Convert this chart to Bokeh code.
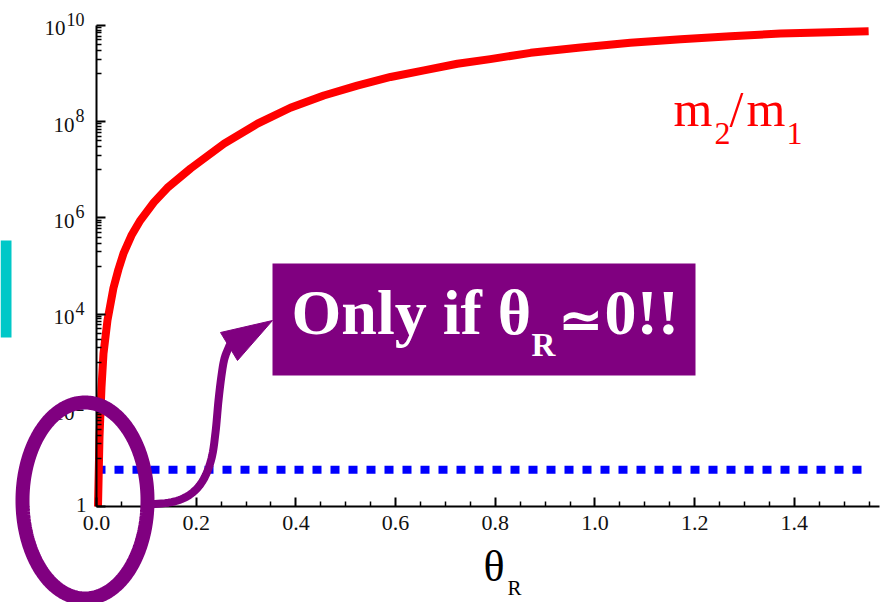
import numpy as np
from bokeh.plotting import figure
from bokeh.models import FixedTicker, Range1d, Label, BoxAnnotation, PolyAnnotation
from bokeh.embed import file_html
from bokeh.resources import INLINE

# ---------------- data ----------------
theta = [0.003, 0.006, 0.010, 0.014, 0.022, 0.034, 0.044, 0.054, 0.070, 0.088,
         0.115, 0.142, 0.189, 0.256, 0.323, 0.389, 0.456, 0.523, 0.590, 0.657,
         0.724, 0.790, 0.871, 0.971, 1.071, 1.172, 1.272, 1.372, 1.472, 1.549]
mass_ratio = [1.0, 28.0, 295.0, 1.5e3, 7.4e3, 3.5e4, 8.5e4, 1.8e5, 4.3e5, 8.9e5,
              2.1e6, 4.2e6, 1.07e7, 3.5e7, 9.1e7, 1.95e8, 3.5e8, 5.6e8, 8.5e8, 1.17e9,
              1.6e9, 2.0e9, 2.7e9, 3.5e9, 4.4e9, 5.2e9, 6.0e9, 6.8e9, 7.2e9, 7.6e9]
flat_theta = [0.0, 1.545]
flat_value = [5.8, 5.8]

x_ticks = [0.0, 0.2, 0.4, 0.6, 0.8, 1.0, 1.2, 1.4]
x_tick_labels = ["0.0", "0.2", "0.4", "0.6", "0.8", "1.0", "1.2", "1.4"]
x_minor = [0.05, 0.1, 0.15, 0.25, 0.3, 0.35, 0.45, 0.5, 0.55, 0.65, 0.7, 0.75,
           0.85, 0.9, 0.95, 1.05, 1.1, 1.15, 1.25, 1.3, 1.35, 1.45, 1.5, 1.55]
x_bounds = (0.0, np.pi / 2)
y_ticks = [1.0, 1e2, 1e4, 1e6, 1e8, 1e10]
y_exponents = ["", "2", "4", "6", "8", "10"]
y_minor = [m * 10.0 ** k for k in (1, 3, 5, 7, 9) for m in range(1, 10)]
y_bounds = (1.0, 1e10)

# ---------------- layout (pixels of the 883x602 canvas) ----------------
W, H = 883, 602
X0_PX, X1_PX = 96, 879        # theta = 0 and theta = pi/2
Y0_PX, Y1_PX = 506, 25        # value = 1 and value = 1e10
SERIF = "Liberation Serif"
PURPLE = "#800080"
BASE_FIX = 0.39               # label baseline correction (fraction of font size)

px_per_x = (X1_PX - X0_PX) / (x_bounds[1] - x_bounds[0])
px_per_dec = (Y0_PX - Y1_PX) / 10.0
x_range = Range1d(-X0_PX / px_per_x, (W - X0_PX) / px_per_x)
y_range = Range1d(10 ** (-(H - Y0_PX) / px_per_dec), 10 ** (Y0_PX / px_per_dec))


def sx(px):
    return float(px)


def sy(py):
    return float(H - py)


p = figure(width=W, height=H, x_range=x_range, y_range=y_range, y_axis_type="log",
           output_backend="svg", toolbar_location=None, title=None,
           min_border_left=0, min_border_right=0, min_border_top=0, min_border_bottom=0)
p.outline_line_color = None
p.xgrid.visible = False
p.ygrid.visible = False
p.background_fill_color = "white"
p.border_fill_color = "white"

for ax in (p.xaxis, p.yaxis):
    ax.axis_line_width = 2
    ax.axis_line_color = "black"
    ax.major_tick_in = 9
    ax.major_tick_out = 0
    ax.minor_tick_in = 5
    ax.minor_tick_out = 0
    ax.major_tick_line_width = 2
    ax.minor_tick_line_width = 1.5
    ax.major_tick_line_color = "black"
    ax.minor_tick_line_color = "black"

p.xaxis.fixed_location = y_bounds[0]
p.xaxis.bounds = x_bounds
p.xaxis.ticker = FixedTicker(ticks=x_ticks, minor_ticks=x_minor)
p.xaxis.major_label_overrides = dict(zip(x_ticks, x_tick_labels))
p.xaxis.major_label_text_font = SERIF
p.xaxis.major_label_text_font_size = "22px"
p.xaxis.major_label_text_color = "#111111"
p.xaxis.major_label_standoff = 9

p.yaxis.fixed_location = x_bounds[0]
p.yaxis.bounds = y_bounds
p.yaxis.ticker = FixedTicker(ticks=y_ticks, minor_ticks=y_minor)
p.yaxis.major_label_overrides = {v: "" for v in y_ticks}

# ---------------- series ----------------
p.line(flat_theta, flat_value, line_color="#0000FF", line_width=8, line_dash="9 9")
p.line(theta, mass_ratio, line_color="#FF0000", line_width=8, line_join="round")

# ---------------- y tick labels (10 with exponent) ----------------
for v, e in zip(y_ticks, y_exponents):
    if e == "":
        p.add_layout(Label(x=sx(86), y=v, x_units="screen", y_units="data", text="1",
                           text_align="right", text_baseline="alphabetic",
                           y_offset=-7 + BASE_FIX * 21,
                           text_font=SERIF, text_font_size="21px", text_color="#111111"))
    else:
        p.add_layout(Label(x=sx(84), y=v, x_units="screen", y_units="data", text=e,
                           text_align="right", text_baseline="alphabetic",
                           y_offset=-1 + BASE_FIX * 18,
                           text_font=SERIF, text_font_size="18px", text_color="#111111"))
        p.add_layout(Label(x=sx(84 - 9 * len(e) - 1), y=v, x_units="screen", y_units="data",
                           text="10", text_align="right", text_baseline="alphabetic",
                           y_offset=-11 + BASE_FIX * 21, text_font=SERIF,
                           text_font_size="21px", text_color="#111111"))


def label(px, py, text, size, color="black", style="normal"):
    p.add_layout(Label(x=sx(px), y=sy(py) + BASE_FIX * size, x_units="screen",
                       y_units="screen", text=text, text_align="left",
                       text_baseline="alphabetic", text_font=SERIF,
                       text_font_size=f"{size}px", text_color=color,
                       text_font_style=style))


# x axis title theta_R
label(483, 583, "θ", 44)
label(507, 596, "R", 21)

# series label m2/m1
label(673, 128, "m", 50, "#FF0000")
label(714, 145, "2", 32, "#FF0000")
label(729, 128, "/", 50, "#FF0000")
label(746, 128, "m", 50, "#FF0000")
label(786, 145, "1", 32, "#FF0000")

# cyan marker at left edge
p.add_layout(BoxAnnotation(left=sx(0), right=sx(11), top=sy(240), bottom=sy(337),
                           left_units="screen", right_units="screen",
                           top_units="screen", bottom_units="screen",
                           fill_color="#00C8C8", fill_alpha=1, line_color=None))

# ellipse around the origin
t = np.linspace(0, 2 * np.pi, 240)
ex = 84.5 + 62.5 * np.cos(t)
ey = 500 + 98 * np.sin(t)
p.add_layout(PolyAnnotation(xs=[sx(v) for v in ex], ys=[sy(v) for v in ey],
                            xs_units="screen", ys_units="screen",
                            fill_color=None, fill_alpha=0, line_color=PURPLE,
                            line_width=14, line_alpha=1))

# curved arrow shaft (traced forward and back so the closed path looks open)
ctrl = np.array([(150, 504), (174, 501), (191, 493), (203, 479), (211, 458), (215, 432),
                 (218, 400), (221, 375), (224, 358), (229, 345)], dtype=float)
pts = []
P = np.vstack([ctrl[0], ctrl, ctrl[-1]])
for i in range(1, len(P) - 2):
    p0, p1, p2, p3 = P[i - 1], P[i], P[i + 1], P[i + 2]
    for s in np.linspace(0, 1, 8, endpoint=False):
        pts.append(0.5 * ((2 * p1) + (-p0 + p2) * s + (2 * p0 - 5 * p1 + 4 * p2 - p3) * s ** 2
                          + (-p0 + 3 * p1 - 3 * p2 + p3) * s ** 3))
pts.append(ctrl[-1])
pts = np.array(pts)
path = np.vstack([pts, pts[::-1]])
p.add_layout(PolyAnnotation(xs=[sx(v) for v in path[:, 0]], ys=[sy(v) for v in path[:, 1]],
                            xs_units="screen", ys_units="screen",
                            fill_color=None, fill_alpha=0, line_color=PURPLE,
                            line_width=8, line_join="round", line_alpha=1))
# arrow head
head = [(272, 320), (220, 332), (237, 360)]
p.add_layout(PolyAnnotation(xs=[sx(a) for a, b in head], ys=[sy(b) for a, b in head],
                            xs_units="screen", ys_units="screen",
                            fill_color=PURPLE, fill_alpha=1, line_color=PURPLE,
                            line_width=1, line_alpha=1))

# purple call-out box
p.add_layout(BoxAnnotation(left=sx(272), right=sx(695), top=sy(263), bottom=sy(375),
                           left_units="screen", right_units="screen",
                           top_units="screen", bottom_units="screen",
                           fill_color=PURPLE, fill_alpha=1, line_color=None))
label(291, 337, "Only if θ", 64, "white", "bold")
label(531, 357, "R", 33, "white", "bold")
label(558, 340, "≃", 52, "white", "bold")
label(604, 337, "0!!", 64, "white", "bold")

open("out.html", "w").write(file_html(p, INLINE))
